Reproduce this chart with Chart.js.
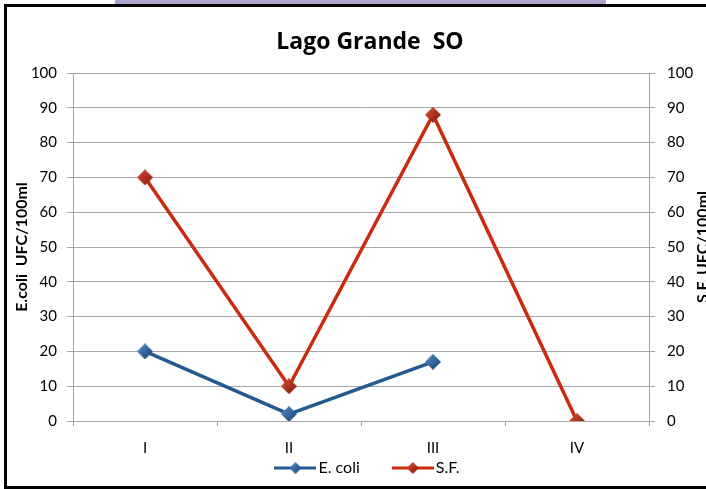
<!DOCTYPE html>
<html>
<head>
<meta charset="utf-8">
<script src="https://cdn.jsdelivr.net/npm/chart.js@4.4.0/dist/chart.umd.min.js"></script>
<style>
  html, body { margin: 0; padding: 0; background: #fff; overflow: hidden; }
  #wrap { position: relative; width: 706px; height: 489px; }
  #topbar { position: absolute; left: 115px; top: 0; width: 491px; height: 4px; background: #b0a3cb; }
  #frame { position: absolute; left: 4px; top: 4px; width: 760px; height: 479px; border: 3px solid #000; border-right: none; }
  #chart { position: absolute; left: 0; top: 0; }
</style>
</head>
<body>
<div id="wrap">
  <div id="topbar"></div>
  <div id="frame"></div>
  <canvas id="chart" width="706" height="489"></canvas>
</div>
<script>
const categories = ["I", "II", "III", "IV"];
const ecoliValues = [20, 2, 17, null];
const sfValues = [70, 10, 88, 0];
const yMin = 0;
const yMax = 100;
const yStep = 10;

const FONT = "Lato";
const blue = "#235a8f";
const red = "#cc2a10";
const gridColor = "#a6a6a6";

// diamond marker with a little shading, like the office-style 3D markers
function diamond(light, dark, size) {
  const c = document.createElement("canvas");
  c.width = size;
  c.height = size;
  const g = c.getContext("2d");
  const h = size / 2;
  const grad = g.createLinearGradient(0, 0, size, size);
  grad.addColorStop(0, light);
  grad.addColorStop(1, dark);
  g.beginPath();
  g.moveTo(h, 0);
  g.lineTo(size, h);
  g.lineTo(h, size);
  g.lineTo(0, h);
  g.closePath();
  g.fillStyle = grad;
  g.fill();
  return c;
}

function legendIcon(lineColor, light, dark) {
  const c = document.createElement("canvas");
  c.width = 42;
  c.height = 14;
  const g = c.getContext("2d");
  g.strokeStyle = lineColor;
  g.lineWidth = 3;
  g.beginPath();
  g.moveTo(0, 7);
  g.lineTo(42, 7);
  g.stroke();
  g.drawImage(diamond(light, dark, 12), 15, 1);
  return c;
}

const blueMarker = diamond("#4f8fd0", "#173f6a", 16);
const redMarker = diamond("#e0503a", "#7e1408", 16);
const legendIcons = [
  legendIcon(blue, "#4f8fd0", "#173f6a"),
  legendIcon(red, "#e0503a", "#7e1408")
];

// chart title and the right axis title (Chart.js turns right titles the other way)
const titles = {
  id: "titles",
  afterLayout(chart) {
    // legend sits closer to the axis than Chart.js would put it
    const lg = chart.legend;
    lg.top = 422;
    lg.left = 73;
    lg.right = 667;
  },
  afterDraw(chart) {
    const ctx = chart.ctx;
    const area = chart.chartArea;
    ctx.save();
    ctx.fillStyle = "#000";
    ctx.textAlign = "center";
    ctx.textBaseline = "alphabetic";
    ctx.font = "bold 23px 'Open Sans'";
    ctx.fillText("Lago Grande  SO", 370, 49);
    ctx.translate(708, (area.top + area.bottom) / 2);
    ctx.rotate(-Math.PI / 2);
    ctx.font = "bold 16px " + FONT;
    ctx.fillText("S.F. UFC/100ml", 0, 0);
    ctx.restore();
  }
};

new Chart(document.getElementById("chart"), {
  type: "line",
  data: {
    labels: categories,
    datasets: [
      {
        label: "E. coli",
        data: ecoliValues,
        borderColor: blue,
        borderWidth: 3.5,
        pointStyle: blueMarker,
        tension: 0
      },
      {
        label: "S.F.",
        data: sfValues,
        borderColor: red,
        borderWidth: 3.5,
        pointStyle: redMarker,
        tension: 0
      }
    ]
  },
  options: {
    responsive: false,
    animation: false,
    devicePixelRatio: 1,
    layout: { padding: { left: 0, right: 0, top: 73, bottom: 0 } },
    plugins: {
      tooltip: { enabled: false },
      title: { display: false },
      legend: {
        position: "bottom",
        fullSize: false,
        maxHeight: 33,
        labels: {
          color: "#000",
          font: { family: FONT, size: 16 },
          usePointStyle: true,
          pointStyleWidth: 30,
          padding: 38,
          generateLabels(chart) {
            const items = Chart.defaults.plugins.legend.labels.generateLabels(chart);
            items.forEach((item, i) => { item.pointStyle = legendIcons[i]; });
            return items;
          }
        }
      }
    },
    scales: {
      x: {
        offset: true,
        grid: { offset: true, drawOnChartArea: false, drawTicks: true, tickLength: 5, color: gridColor },
        border: { display: true, color: gridColor },
        ticks: { color: "#000", font: { family: FONT, size: 15 }, padding: 13 },
        afterFit(scale) { scale.height = 35; }
      },
      y: {
        position: "left",
        min: yMin,
        max: yMax,
        ticks: { stepSize: yStep, color: "#000", font: { family: FONT, size: 15 }, padding: 10 },
        grid: { color: gridColor, tickLength: 6 },
        border: { display: true, color: gridColor },
        title: {
          display: true,
          text: "E.coli  UFC/100ml",
          color: "#000",
          font: { family: FONT, size: 16, weight: "bold", lineHeight: 1.2 },
          padding: { top: 12, bottom: 0 }
        },
        afterFit(scale) { scale.width = 73; }
      },
      y2: {
        position: "right",
        min: yMin,
        max: yMax,
        ticks: { stepSize: yStep, color: "#000", font: { family: FONT, size: 15 }, padding: 12 },
        grid: { drawOnChartArea: false, color: gridColor, tickLength: 6 },
        border: { display: true, color: gridColor },
        afterFit(scale) { scale.width = 57; }
      }
    }
  },
  plugins: [titles]
});
</script>
</body>
</html>
